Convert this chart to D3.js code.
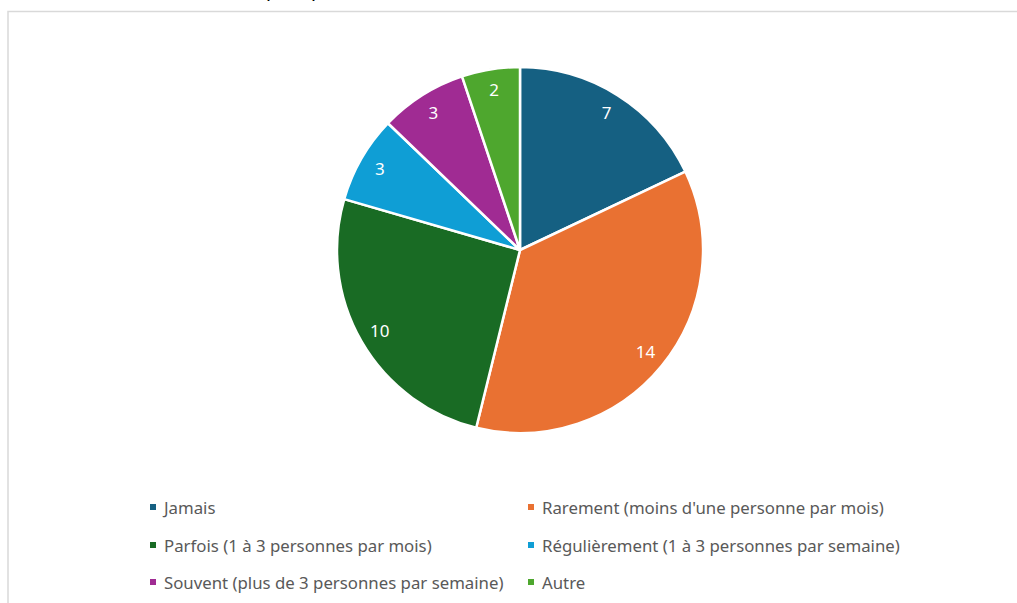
<!DOCTYPE html>
<html><head><meta charset="utf-8">
<script src="https://cdn.jsdelivr.net/npm/d3@7"></script>
<style>body{margin:0;background:#fff}svg{display:block}</style>
</head><body>
<svg id="c" width="1017" height="603"></svg>
<script>
const categories = ["Jamais","Rarement (moins d'une personne par mois)","Parfois (1 à 3 personnes par mois)","Régulièrement (1 à 3 personnes par semaine)","Souvent (plus de 3 personnes par semaine)","Autre"];
const values = [7,14,10,3,3,2];
const colors = ["#156082","#E97132","#196B24","#0F9ED5","#A02B93","#4EA72E"];

const svg = d3.select("#c");
// cut-off title above frame (only descenders visible)
const t = svg.append("text").attr("y",-3).attr("font-family","Liberation Sans, sans-serif")
  .attr("font-style","italic").attr("font-size",20).attr("fill","#000");
t.append("tspan").attr("x",268).text("p");
t.append("tspan").attr("x",313).text("p");
// chart frame
svg.append("rect").attr("x",8).attr("y",11.5).attr("width",1030).attr("height",620)
  .attr("fill","none").attr("stroke","#d9d9d9").attr("stroke-width",1.5);

const cx = 520, cy = 250, r = 183;
const pie = d3.pie().sort(null).value(d=>d.v);
const data = pie(categories.map((c,i)=>({c, v:values[i], col:colors[i]})));
const arc = d3.arc().innerRadius(0).outerRadius(r);
const labelArc = d3.arc().innerRadius(r*0.885).outerRadius(r*0.885);
const g = svg.append("g").attr("transform",`translate(${cx},${cy})`);
g.selectAll("path").data(data).join("path").attr("d",arc)
  .attr("fill",d=>d.data.col).attr("stroke","#fff").attr("stroke-width",2.5).attr("stroke-linejoin","round");
g.selectAll("text").data(data).join("text")
  .attr("transform",d=>{const p=labelArc.centroid(d);return `translate(${p[0]},${p[1]})`;})
  .attr("text-anchor","middle").attr("dy","0.35em")
  .attr("font-family","Noto Sans, sans-serif").attr("font-size",17).attr("fill","#fff")
  .text(d=>d.data.v);

// legend
const colX = [150, 528], rowY = [508, 546, 583];
const lg = svg.append("g");
categories.forEach((c,i)=>{
  const x = colX[i%2], y = rowY[Math.floor(i/2)];
  lg.append("rect").attr("x",x).attr("y",y-4).attr("width",6).attr("height",6).attr("fill",colors[i]);
  lg.append("text").attr("x",x+14).attr("y",y).attr("dy","0.35em")
    .attr("font-family","Noto Sans, sans-serif").attr("font-size",16.8).attr("fill","#595959").text(c);
});
</script>
</body></html>
